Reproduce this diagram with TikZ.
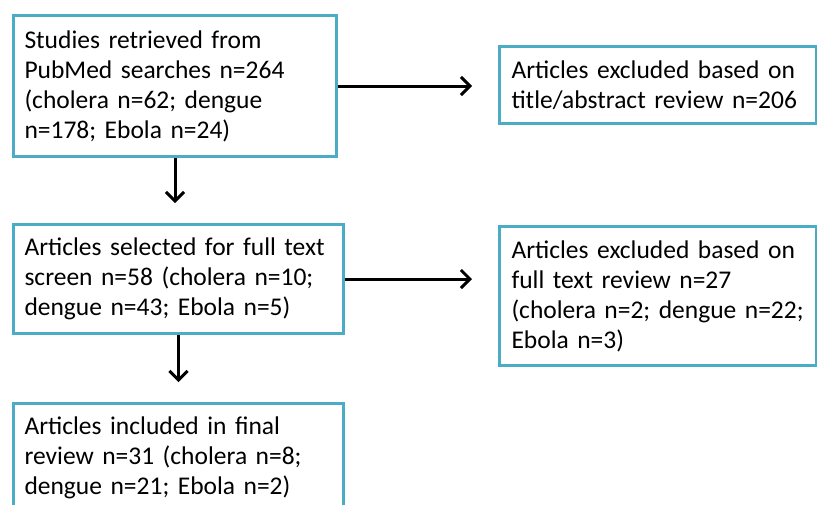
\documentclass[tikz,border=0pt]{standalone}
\usepackage{fontspec}
\setmainfont{Carlito}
\usetikzlibrary{arrows.meta,positioning}
\definecolor{boxblue}{RGB}{75,172,198}

\begin{document}
\begin{tikzpicture}[x=1pt,y=-1pt,
    box/.style={draw=boxblue,line width=3pt,anchor=north west,align=left,inner xsep=11pt,font=\fontsize{25.5}{30}\selectfont},
    flow/.style={line width=3pt,-{Straight Barb[length=9pt,width=18pt]}}]
    \useasboundingbox (0,0) rectangle (817,504);
    % Left column
    \node[box,text width=301pt,minimum height=141pt] (retrieved) at (12,14) {Studies retrieved from\\PubMed searches n=264\\(cholera n=62; dengue\\n=178; Ebola n=24)};
    \node[box,text width=308pt,minimum height=109pt] (selected) at (12,223) {Articles selected for full text\\screen n=58 (cholera n=10;\\dengue n=43; Ebola n=5)};
    \node[box,text width=308pt,minimum height=109pt] (included) at (12,402) {Articles included in final\\review n=31 (cholera n=8;\\dengue n=21; Ebola n=2)};
    % Right column
    \node[box,inner xsep=12pt,text width=293pt,minimum height=77pt] (exclTitle) at (498,45) {Articles excluded based on\\title/abstract review n=206};
    \node[box,inner xsep=12pt,text width=293pt,minimum height=139pt] (exclFull) at (498,225) {Articles excluded based on\\full text review n=27\\(cholera~n=2;~dengue~n=22;\\Ebola n=3)};
    % Arrows
    \draw[flow,shorten >=26pt] (retrieved.east) -- (retrieved.east -| exclTitle.west);
    \draw[flow,shorten >=20pt] (retrieved.south) -- (retrieved.south |- selected.north);
    \draw[flow,shorten >=26pt] (selected.east) -- (selected.east -| exclFull.west);
    \draw[flow,shorten >=20pt] (selected.south) -- (selected.south |- included.north);
\end{tikzpicture}
\end{document}
